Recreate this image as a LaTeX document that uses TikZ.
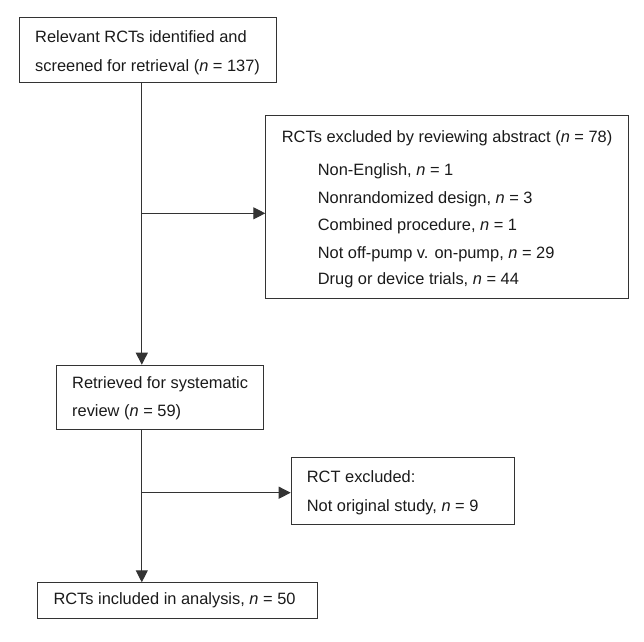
\documentclass[tikz,border=0pt]{standalone}
\usepackage{fontspec}
\setmainfont{Liberation Sans}
\usetikzlibrary{arrows.meta}
\definecolor{ln}{HTML}{333333}
\definecolor{tx}{HTML}{1A1A1A}
\tikzset{
  box/.style={draw=ln, line width=1.1pt, rectangle, inner sep=0pt, anchor=north west},
  txt/.style={anchor=base west, inner sep=0pt, text=tx, font=\fontsize{16.4}{19}\selectfont},
  conn/.style={draw=ln, line width=1.1pt},
  arr/.style={conn, -{Triangle[length=12pt, width=12pt]}}
}
\begin{document}
\begin{tikzpicture}[x=1pt, y=-1pt]
\useasboundingbox (0,0) rectangle (644,641);
% boxes
\node[box, minimum width=256.7pt, minimum height=65pt] (b1) at (19.3,16.7) {};
\node[box, minimum width=362.4pt, minimum height=183.6pt] (b2) at (265.3,114.7) {};
\node[box, minimum width=207.3pt, minimum height=64.6pt] (b3) at (56,364.7) {};
\node[box, minimum width=223.3pt, minimum height=66.7pt] (b4) at (290.7,457.3) {};
\node[box, minimum width=280.6pt, minimum height=36pt] (b5) at (36.7,582.3) {};
% texts
\node[txt] (t11) at (35,42.7) {Relevant RCTs identified and};
\node[txt] (t12) at (35,71) {screened for retrieval (\textit{n} = 137)};
\node[txt] (t21) at (281.7,142.3) {RCTs excluded by reviewing abstract (\textit{n} = 78)};
\node[txt] (t22) at (317.7,175.7) {Non-English, \textit{n} = 1};
\node[txt] (t23) at (317.7,203.3) {Nonrandomized design, \textit{n} = 3};
\node[txt] (t24) at (317.7,230.7) {Combined procedure, \textit{n} = 1};
\node[txt] (t25) at (317.7,258.3) {Not off-pump v. on-pump, \textit{n} = 29};
\node[txt] (t26) at (317.7,284) {Drug or device trials, \textit{n} = 44};
\node[txt] (t31) at (72,388.3) {Retrieved for systematic};
\node[txt] (t32) at (72,416.7) {review (\textit{n} = 59)};
\node[txt] (t41) at (306.7,482.3) {RCT excluded:};
\node[txt] (t42) at (306.7,511.7) {Not original study, \textit{n} = 9};
\node[txt] (t51) at (53.3,604.8) {RCTs included in analysis, \textit{n} = 50};
% junctions
\coordinate (j1) at (141.8,213.3);
\coordinate (j2) at (141.8,492.7);
% connectors
\draw[arr] (b1.south -| j1) -- (b3.north -| j1);
\draw[arr] (j1) -- (b2.west |- j1);
\draw[arr] (b3.south -| j2) -- (b5.north -| j2);
\draw[arr] (j2) -- (b4.west |- j2);
\end{tikzpicture}
\end{document}
